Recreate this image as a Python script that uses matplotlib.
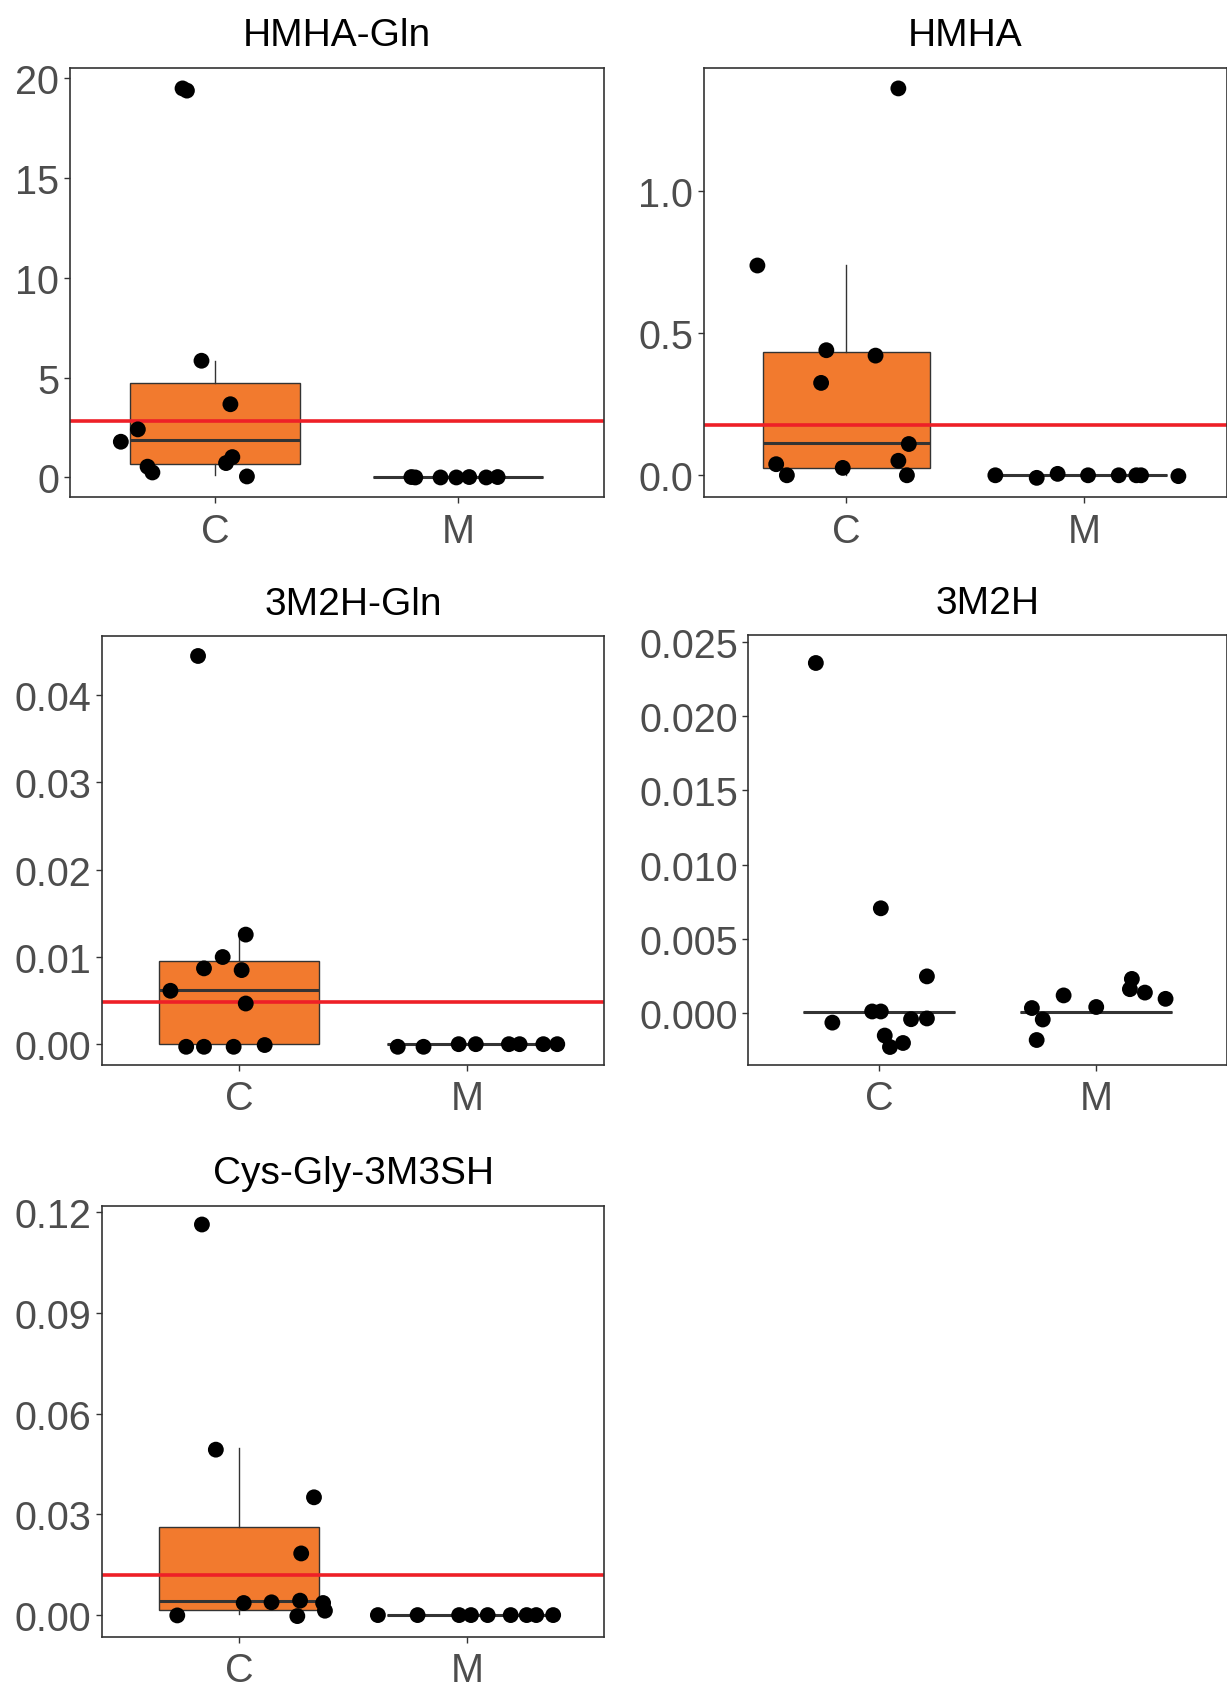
import matplotlib.pyplot as plt
import numpy as np

plt.rcParams['font.family'] = ['Liberation Sans', 'DejaVu Sans']

# panel titles
titles = ['HMHA-Gln', 'HMHA', '3M2H-Gln', '3M2H', 'Cys-Gly-3M3SH']
groups = ['C', 'M']

# jittered points (x position around group index 1 = C, 2 = M, y value)
hmha_gln_x = [0.865, 0.883, 0.943, 1.062, 0.681, 0.611, 0.721, 0.741, 1.070, 1.044, 1.130,
              1.807, 1.823, 1.927, 1.992, 2.045, 2.115, 2.162]
hmha_gln_y = [19.5, 19.39, 5.85, 3.67, 2.41, 1.79, 0.54, 0.25, 1.02, 0.72, 0.05,
              0.02, 0.0, 0.0, 0.0, 0.02, 0.0, 0.02]

hmha_x = [1.219, 0.626, 0.916, 1.123, 0.894, 1.263, 0.705, 0.750, 0.985, 1.219, 1.255,
          1.627, 1.801, 1.889, 2.017, 2.146, 2.220, 2.240, 2.397]
hmha_y = [1.361, 0.738, 0.440, 0.421, 0.325, 0.110, 0.039, 0.0, 0.026, 0.051, 0.0,
          0.0, -0.009, 0.005, 0.0, 0.0, 0.0, 0.0, -0.003]

m2h_gln_x = [0.821, 1.030, 0.929, 0.847, 1.012, 0.700, 1.030, 0.769, 0.847, 0.977, 1.113,
             1.696, 1.809, 1.963, 2.038, 2.183, 2.230, 2.334, 2.395]
m2h_gln_y = [0.0445, 0.01256, 0.00999, 0.00869, 0.00849, 0.00612, 0.00466, -0.0003, -0.0003, -0.0003, -0.0001,
             -0.0003, -0.0003, 0.0, 0.0, 0.0, 0.0, 0.0, 0.0]

m2h_x = [0.710, 1.009, 1.221, 0.786, 0.969, 1.009, 1.027, 1.051, 1.111, 1.148, 1.221,
         1.704, 1.754, 1.726, 1.850, 2.000, 2.164, 2.155, 2.224, 2.319]
m2h_y = [0.02356, 0.00706, 0.00248, -0.00063, 0.00012, 0.00012, -0.0015, -0.00227, -0.0020, -0.0004, -0.00035,
         0.00035, -0.00042, -0.0018, 0.0012, 0.00042, 0.00231, 0.00162, 0.00139, 0.00097]

cysgly_x = [0.838, 0.899, 1.329, 1.273, 1.021, 1.143, 1.268, 1.369, 1.377, 1.256, 0.730,
            1.609, 1.783, 1.965, 2.017, 2.090, 2.191, 2.261, 2.303, 2.377]
cysgly_y = [0.1164, 0.0493, 0.0351, 0.01837, 0.0036, 0.0038, 0.0043, 0.0036, 0.0013, -0.0003, -0.0001,
            0.0, 0.0, 0.0, 0.0, 0.0, 0.0, 0.0, 0.0, 0.0]

# box statistics per panel: [whislo, q1, med, q3, whishi] for C and M
box_C = [[0.12, 0.68, 1.86, 4.72, 5.85],
         [0.0, 0.026, 0.112, 0.435, 0.741],
         [0.0, 0.0, 0.00624, 0.00948, 0.01256],
         [0.00007, 0.00007, 0.00007, 0.00007, 0.00007],
         [0.0003, 0.00155, 0.0041, 0.0263, 0.0497]]
box_M = [[0.0, 0.0, 0.0, 0.0, 0.0],
         [0.0, 0.0, 0.0, 0.0, 0.0],
         [0.0, 0.0, 0.0, 0.0, 0.0],
         [0.00007, 0.00007, 0.00007, 0.00007, 0.00007],
         [0.0, 0.0, 0.0, 0.0, 0.0]]

# red reference lines (None = no line)
ref_line = [2.81, 0.177, 0.00486, None, 0.01207]

yticks = [[0, 5, 10, 15, 20],
          [0.0, 0.5, 1.0],
          [0.00, 0.01, 0.02, 0.03, 0.04],
          [0.000, 0.005, 0.010, 0.015, 0.020, 0.025],
          [0.00, 0.03, 0.06, 0.09, 0.12]]
ytick_fmt = ['{:.0f}', '{:.1f}', '{:.2f}', '{:.3f}', '{:.2f}']
ylims = [(-0.98, 20.54), (-0.0764, 1.434), (-0.00237, 0.04679), (-0.00347, 0.02542), (-0.0064, 0.122)]

points = [(hmha_gln_x, hmha_gln_y), (hmha_x, hmha_y), (m2h_gln_x, m2h_gln_y),
          (m2h_x, m2h_y), (cysgly_x, cysgly_y)]

# axes rectangles [left, bottom, width, height] in figure fraction
rects = [[0.0567, 0.7041, 0.4356, 0.2551],
         [0.5735, 0.7041, 0.4262, 0.2551],
         [0.0831, 0.3667, 0.4092, 0.2548],
         [0.6100, 0.3667, 0.3897, 0.2552],
         [0.0831, 0.0270, 0.4092, 0.2560]]

fig = plt.figure(figsize=(12.27, 16.83), dpi=100)
for i in range(5):
    ax = fig.add_axes(rects[i])
    stats = []
    for g, b in zip(groups, [box_C[i], box_M[i]]):
        stats.append(dict(label=g, whislo=b[0], q1=b[1], med=b[2], q3=b[3], whishi=b[4], fliers=[]))
    ax.bxp(stats, positions=[1, 2], widths=0.7, patch_artist=True, showcaps=False,
           boxprops=dict(facecolor='#F27A2E', edgecolor='#333333', linewidth=1.0),
           whiskerprops=dict(color='#333333', linewidth=1.0),
           medianprops=dict(color='#333333', linewidth=2.2), zorder=1)
    if ref_line[i] is not None:
        ax.axhline(ref_line[i], color='#EE2027', linewidth=2.6, zorder=2)
    px, py = points[i]
    ax.scatter(px, py, s=130, color='black', edgecolors='none', zorder=3)

    ax.set_xlim(0.4, 2.6)
    ax.set_ylim(*ylims[i])
    ax.set_xticks([1, 2])
    ax.set_xticklabels(groups)
    ax.set_yticks(yticks[i])
    ax.set_yticklabels([ytick_fmt[i].format(v) for v in yticks[i]])
    ax.tick_params(axis='both', labelsize=28.5, labelcolor='#4D4D4D', color='#333333',
                   length=4.5, width=1.0, pad=3)
    ax.tick_params(axis='x', pad=6)
    for s in ax.spines.values():
        s.set_color('#333333')
        s.set_linewidth(1.2)
    ax.set_title(titles[i], fontsize=28, pad=16)

fig.savefig('out.png', dpi=100)
